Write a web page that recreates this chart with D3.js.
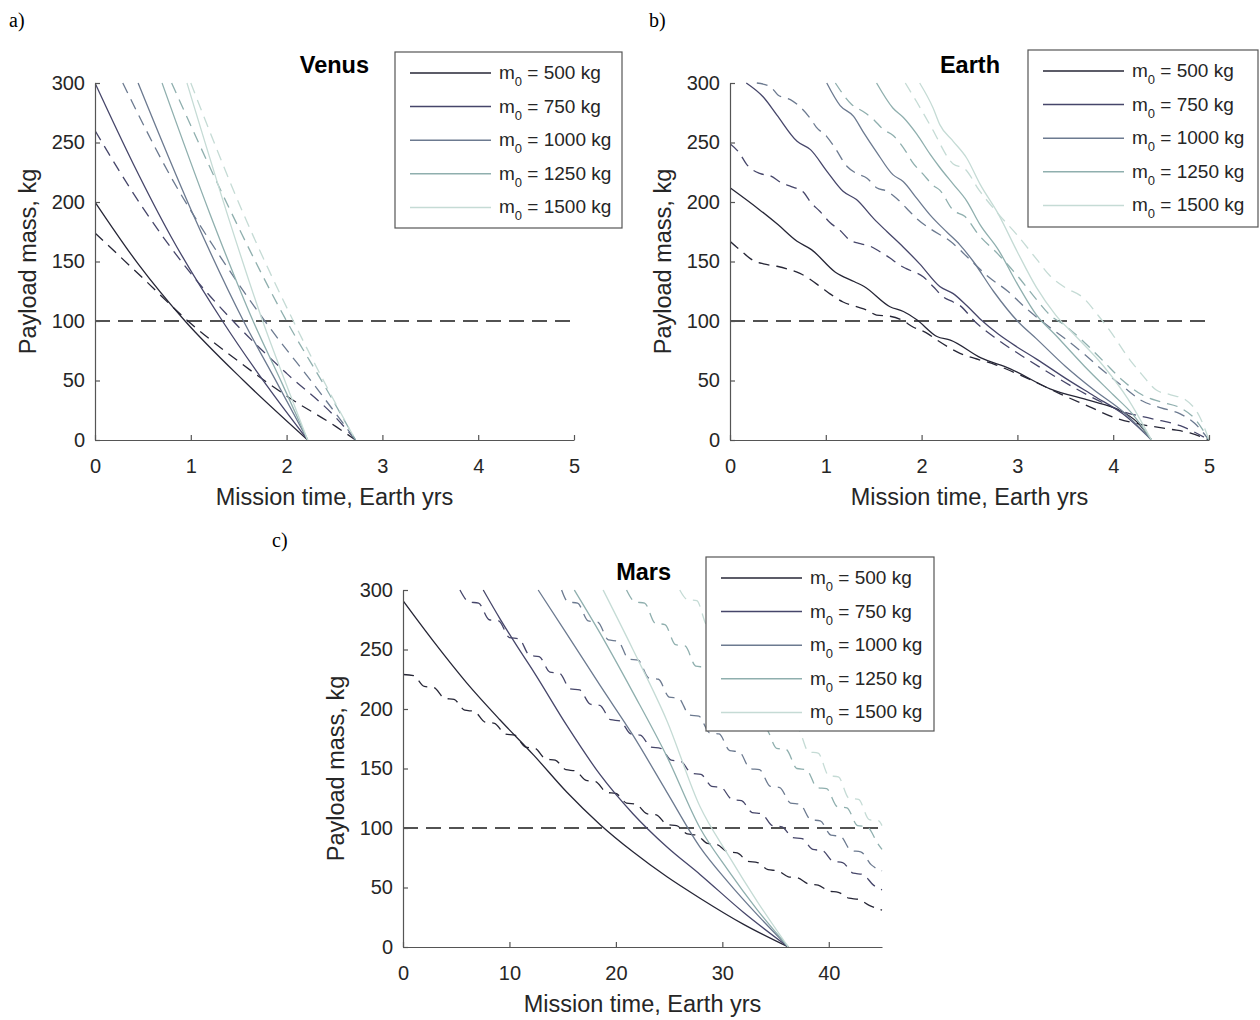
<!DOCTYPE html>
<html>
<head>
<meta charset="utf-8">
<script src="https://d3js.org/d3.v7.min.js"></script>
<style>
  body { margin: 0; background: #fff; }
  svg text { font-family: "Liberation Sans", Arial, sans-serif; fill: #262626; }
</style>
</head>
<body>
<svg id="chart" width="1260" height="1020"></svg>
<script>
// initial mass of each curve and its colour
const masses = [500, 750, 1000, 1250, 1500];
const colors = ["#262636", "#46466a", "#6c7a90", "#8fafae", "#c5dbd5"];
const yTicks = [0, 50, 100, 150, 200, 250, 300];
const xTicksShort = [0, 1, 2, 3, 4, 5];
const xTicksMars = [0, 10, 20, 30, 40];
const threshold = 100;

// Venus: [years, kg]
const venusSolid = [
  [[0,200],[0.45,148],[0.94,100],[1.55,50],[2.22,0]],
  [[0,300],[0.4,232],[0.8,170],[1.33,100],[1.8,45],[2.22,0]],
  [[0.45,300],[1.0,194],[1.55,100],[1.9,48],[2.22,0]],
  [[0.70,300],[1.2,190],[1.65,100],[1.95,48],[2.22,0]],
  [[0.96,300],[1.4,185],[1.75,100],[2.0,46],[2.22,0]]
];
const venusDashed = [
  [[0,174],[0.5,136],[0.97,100],[1.5,66],[2.0,37],[2.52,11],[2.72,0]],
  [[0,260],[0.5,195],[1.0,140],[1.5,95],[2.0,56],[2.5,20],[2.72,0]],
  [[0.29,300],[0.8,220],[1.3,155],[1.8,97],[2.3,45],[2.72,0]],
  [[0.80,300],[1.4,195],[2.0,100],[2.4,45],[2.72,0]],
  [[1.0,300],[1.55,190],[2.07,100],[2.45,40],[2.72,0]]
];

// Earth
const earthSolid = [
  [[0,212],[0.3,194],[0.5,181],[0.7,167],[0.85,160],[1.1,141],[1.3,133],[1.4,129],[1.67,112],[1.81,108],[1.95,101],[2.16,87],[2.3,84],[2.62,69],[2.92,60],[3.34,43],[3.76,33],[4.04,26],[4.25,15],[4.4,0]],
  [[0.17,300],[0.35,288],[0.49,273],[0.70,251],[0.84,244],[1.01,226],[1.18,209],[1.32,202],[1.50,186],[1.64,175],[1.81,162],[1.98,148],[2.19,129],[2.33,123],[2.47,113],[2.62,101],[2.8,89],[3.0,78],[3.2,68],[3.5,52],[3.8,37],[4.1,22],[4.4,0]],
  [[1.01,300],[1.15,281],[1.29,272],[1.39,259],[1.53,242],[1.70,223],[1.81,217],[1.95,203],[2.09,189],[2.26,175],[2.40,164],[2.54,150],[2.75,125],[3.0,100],[3.2,85],[3.5,62],[3.8,42],[4.1,24],[4.4,0]],
  [[1.53,300],[1.70,279],[1.81,271],[1.95,257],[2.09,240],[2.19,229],[2.33,215],[2.47,201],[2.61,181],[2.8,160],[3.0,131],[3.2,105],[3.4,88],[3.7,62],[4.0,38],[4.2,22],[4.4,0]],
  [[1.98,300],[2.12,279],[2.19,265],[2.33,251],[2.47,237],[2.61,215],[2.8,190],[3.0,158],[3.2,128],[3.4,105],[3.6,88],[3.9,62],[4.15,35],[4.4,0]]
];
const earthDashed = [
  [[0,167],[0.1,160],[0.24,151],[0.35,148],[0.49,146],[0.63,143],[0.73,140],[0.94,129],[1.04,123],[1.18,116],[1.32,112],[1.43,109],[1.53,105],[1.67,104],[1.79,101],[1.91,95],[2.05,90],[2.16,84],[2.37,74],[2.78,63],[3.1,52],[3.44,39],[3.75,28],[4.04,18],[4.3,13],[4.6,9],[4.8,6],[5,0]],
  [[0,249],[0.10,241],[0.17,232],[0.31,224],[0.42,222],[0.54,216],[0.64,213],[0.77,208],[0.84,200],[0.94,192],[1.04,183],[1.15,176],[1.25,168],[1.36,165],[1.46,163],[1.57,158],[1.67,153],[1.77,147],[1.84,144],[2.02,137],[2.12,129],[2.23,120],[2.33,116],[2.40,113],[2.55,100],[2.8,84],[3.1,68],[3.4,53],[3.8,35],[4.1,24],[4.4,18],[4.7,12],[5,0]],
  [[0.28,300],[0.42,297],[0.5,290],[0.63,286],[0.73,280],[0.84,270],[0.9,263],[1.01,255],[1.1,245],[1.22,230],[1.32,224],[1.43,220],[1.53,212],[1.64,209],[1.74,203],[1.84,195],[1.95,186],[2.1,177],[2.3,167],[2.5,152],[2.7,137],[2.9,125],[3.1,110],[3.3,97],[3.5,85],[3.7,72],[3.9,58],[4.1,45],[4.3,33],[4.5,27],[4.7,22],[4.85,14],[5,0]],
  [[1.10,300],[1.27,282],[1.39,276],[1.49,270],[1.6,261],[1.7,256],[1.84,242],[1.9,234],[2.02,223],[2.12,214],[2.19,210],[2.33,193],[2.45,188],[2.6,172],[2.8,156],[3.0,138],[3.2,118],[3.34,105],[3.5,96],[3.7,82],[3.9,66],[4.1,50],[4.3,38],[4.5,32],[4.7,27],[4.85,18],[5,0]],
  [[1.83,300],[1.95,284],[2.1,263],[2.33,232],[2.45,228],[2.6,210],[2.8,190],[3.0,172],[3.2,152],[3.34,138],[3.5,128],[3.68,120],[3.85,104],[4.0,88],[4.15,70],[4.3,55],[4.45,42],[4.6,38],[4.75,34],[4.9,20],[5,0]]
];

// Mars
const marsSolid = [
  [[0,291],[2.85,257],[5.98,222],[9.1,191],[12.3,161],[15.4,130],[18.5,103],[21.6,80],[24.8,59],[27.9,41],[32,19],[36.2,0]],
  [[7.54,300],[9.1,276],[10.7,253],[12.3,231],[15.4,186],[18.5,145],[21.6,112],[24.8,84],[27.9,61],[32,29],[36.2,0]],
  [[12.7,300],[15.4,263],[18.5,220],[21.6,178],[24.8,130],[27.9,84],[30.5,55],[33.3,27],[36.2,0]],
  [[16.1,300],[18.5,264],[21.6,214],[24.8,160],[27.9,100],[30.5,65],[33.3,31],[36.2,0]],
  [[18.8,300],[21.6,250],[24.8,190],[27.9,118],[30.5,78],[33.3,38],[36.2,0]]
];
// dashed Mars curves step down once per launch window
const marsDashed = [
  [[0,229],[1.0,228],[2.0,219],[2.9,218],[3.9,209],[4.8,208],[5.8,199],[6.7,198],[7.7,189],[8.6,188],[9.6,179],[10.5,178],[11.5,168],[12.4,167],[13.4,158],[14.3,157],[15.3,149],[16.2,148],[17.2,140],[18.1,139],[19.1,130],[20.0,129],[21.0,121],[21.9,120],[22.9,112],[23.8,111],[24.8,103],[25.7,102],[26.7,95],[27.6,94],[28.6,87],[29.5,86],[30.5,80],[31.4,79],[32.4,72],[33.3,71],[34.3,65],[35.2,64],[36.2,59],[37.1,58],[38.1,53],[39.0,52],[40.0,47],[40.9,46],[41.9,41],[42.8,40],[43.8,35],[45,31]],
  [[5.35,300],[6.2,290],[7.1,289],[8.1,275],[9.0,274],[10.0,260],[10.9,259],[11.9,245],[12.8,244],[13.8,231],[14.7,230],[15.7,217],[16.6,216],[17.6,204],[18.5,203],[19.5,191],[20.4,190],[21.4,179],[22.3,178],[23.3,168],[24.2,167],[25.2,157],[26.1,156],[27.1,146],[28.0,145],[29.0,135],[29.9,134],[30.9,124],[31.8,123],[32.8,113],[33.7,112],[34.7,102],[35.6,101],[36.6,92],[37.5,91],[38.5,82],[39.4,81],[40.4,72],[41.3,71],[42.3,62],[43.2,61],[44.2,52],[45,48]],
  [[14.9,300],[15.5,290],[16.4,289],[17.4,274],[18.3,273],[19.3,258],[20.2,257],[21.2,242],[22.1,241],[23.1,226],[24.0,225],[25.0,210],[25.9,209],[26.9,195],[27.8,194],[28.8,180],[29.7,179],[30.7,165],[31.6,164],[32.6,150],[33.5,149],[34.5,135],[35.4,134],[36.4,121],[37.3,120],[38.3,107],[39.2,106],[40.2,94],[41.1,93],[42.1,81],[43.0,80],[44.0,69],[45,64]],
  [[21.0,300],[21.8,290],[22.7,289],[23.7,272],[24.6,271],[25.6,254],[26.5,253],[27.5,236],[28.4,235],[29.4,218],[30.3,217],[31.3,201],[32.2,200],[33.2,184],[34.1,183],[35.1,167],[36.0,166],[37.0,150],[37.9,149],[38.9,134],[39.8,133],[40.8,118],[41.7,117],[42.7,102],[43.6,101],[44.6,87],[45,82]],
  [[26.0,300],[26.7,292],[27.6,291],[28.6,270],[29.5,269],[30.5,248],[31.4,247],[32.4,226],[33.3,225],[34.3,205],[35.2,204],[36.2,184],[37.1,183],[38.1,164],[39.0,163],[40.0,144],[40.9,143],[41.9,125],[42.8,124],[43.8,107],[44.7,106],[45,102]]
];

const svg = d3.select("#chart");

function drawPanel(p) {
  const w = 479, h = 357;
  const g = svg.append("g").attr("transform", `translate(${p.left},${p.top})`);
  const x = d3.scaleLinear().domain([0, p.xMax]).range([0, w]);
  const y = d3.scaleLinear().domain([0, 300]).range([h, 0]);

  const clipId = "clip-" + p.id;
  g.append("clipPath").attr("id", clipId)
    .append("rect").attr("x", 0).attr("y", -1).attr("width", w + 1).attr("height", h + 2);

  const line = d3.line()
    .x(d => x(d[0]))
    .y(d => y(d[1]))
    .curve(d3.curveMonotoneX);

  const plot = g.append("g").attr("clip-path", `url(#${clipId})`);

  // threshold line
  plot.append("line")
    .attr("x1", x(0)).attr("x2", x(p.xMax))
    .attr("y1", y(threshold)).attr("y2", y(threshold))
    .attr("stroke", "#1a1a1a").attr("stroke-width", 1.4)
    .attr("stroke-dasharray", "15,8");

  p.dashed.forEach((s, i) => {
    plot.append("path").attr("d", line(s))
      .attr("fill", "none").attr("stroke", colors[i])
      .attr("stroke-width", 1.3).attr("stroke-dasharray", "11,7");
  });
  p.solid.forEach((s, i) => {
    plot.append("path").attr("d", line(s))
      .attr("fill", "none").attr("stroke", colors[i])
      .attr("stroke-width", 1.3);
  });

  // axes with inward ticks
  const xAxis = g.append("g").attr("transform", `translate(0,${h})`)
    .call(d3.axisBottom(x).tickValues(p.xTicks).tickFormat(d3.format("d"))
      .tickSize(-5).tickSizeOuter(0).tickPadding(19));
  const yAxis = g.append("g")
    .call(d3.axisLeft(y).tickValues(yTicks).tickSize(-5).tickSizeOuter(0).tickPadding(10));
  [xAxis, yAxis].forEach(a => {
    a.selectAll("path, line").attr("stroke", "#555").attr("stroke-width", 1.2);
    a.selectAll("text").attr("font-size", 20).attr("fill", "#262626")
      .attr("font-family", "'Liberation Sans', Arial, sans-serif");
  });

  // axis titles
  g.append("text").attr("x", w / 2).attr("y", h + 65)
    .attr("text-anchor", "middle").attr("font-size", 23.5)
    .text("Mission time, Earth yrs");
  g.append("text")
    .attr("transform", `translate(-59,${h / 2}) rotate(-90)`)
    .attr("text-anchor", "middle").attr("font-size", 23.5)
    .text("Payload mass, kg");

  // planet title
  g.append("text").attr("x", p.titleX).attr("y", -10)
    .attr("text-anchor", "end").attr("font-size", 23.5).attr("font-weight", "bold")
    .style("fill", "#000")
    .text(p.title);

  // legend
  const lg = svg.append("g").attr("transform", `translate(${p.legend[0]},${p.legend[1]})`);
  lg.append("rect").attr("width", p.legend[2]).attr("height", p.legend[3])
    .attr("fill", "#fff").attr("stroke", "#555").attr("stroke-width", 1.2);
  masses.forEach((m, i) => {
    const yy = 21 + i * 33.6;
    lg.append("line").attr("x1", 15).attr("x2", 96).attr("y1", yy).attr("y2", yy)
      .attr("stroke", colors[i]).attr("stroke-width", 1.5);
    const t = lg.append("text").attr("x", 104).attr("y", yy + 6).attr("font-size", 19);
    t.append("tspan").text("m");
    t.append("tspan").attr("dy", 7).attr("font-size", 13).text("0");
    t.append("tspan").attr("dy", -7).text(` = ${m} kg`);
  });

  // panel letter
  svg.append("text").attr("x", p.letter[0]).attr("y", p.letter[1])
    .attr("font-size", 20).style("font-family", "'Liberation Serif', 'Times New Roman', serif")
    .style("fill", "#000")
    .text(p.letter[2]);
}

drawPanel({ id: "a", left: 95, top: 83, xMax: 5, xTicks: xTicksShort,
  solid: venusSolid, dashed: venusDashed, title: "Venus", titleX: 274,
  legend: [395, 52, 227, 176], letter: [9, 27, "a)"] });
drawPanel({ id: "b", left: 730, top: 83, xMax: 5, xTicks: xTicksShort,
  solid: earthSolid, dashed: earthDashed, title: "Earth", titleX: 270,
  legend: [1028, 50, 230, 177], letter: [649, 27, "b)"] });
drawPanel({ id: "c", left: 403, top: 590, xMax: 45, xTicks: xTicksMars,
  solid: marsSolid, dashed: marsDashed, title: "Mars", titleX: 268,
  legend: [706, 557, 228, 174], letter: [272, 547, "c)"] });
</script>
</body>
</html>
